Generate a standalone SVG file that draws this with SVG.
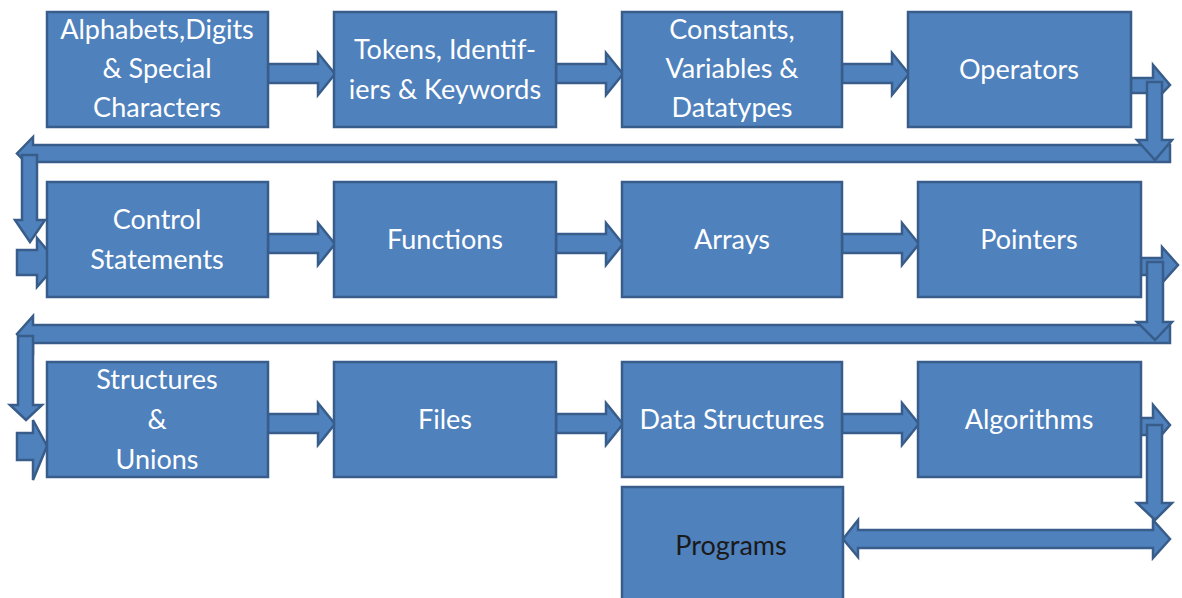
<svg xmlns="http://www.w3.org/2000/svg" width="1182" height="598" viewBox="0 0 1182 598">
  <style>
    .box { fill: #4F81BD; stroke: #385D8A; stroke-width: 2.5; }
    .arr { fill: #4F81BD; stroke: #385D8A; stroke-width: 2.5; stroke-linejoin: miter; }
    .lbl { font-family: Lato, "Liberation Sans", sans-serif; font-size: 27px; fill: #ffffff; text-anchor: middle; }
    .dark { fill: #1a1a1a; }
  </style>
  <rect width="1182" height="598" fill="#ffffff"/>

  <!-- flow connectors: block arrows -->
  <g id="connectors">
    <!-- row 1 links -->
    <path class="arr" d="M268,64 H318 V53 L335,74 L318,95 V83 H268 Z"/>
    <path class="arr" d="M556,64 H606 V53 L623,74 L606,95 V83 H556 Z"/>
    <path class="arr" d="M842,64 H892 V53 L909,74 L892,95 V83 H842 Z"/>
    <!-- row 1 to row 2 return path -->
    <path class="arr" d="M1131,78 H1153 V65 L1170,85 L1153,103 V93 H1131 Z"/>
    <path class="arr" d="M1170,145 H33 V137 L17,153.5 L33,170 V162 H1170 Z"/>
    <path class="arr" d="M1147,82 H1162 V140 H1172 L1155,160 L1137,140 H1147 Z"/>
    <path class="arr" d="M22,155 H37 V220 H45 L30,242 L15,220 H22 Z"/>
    <path class="arr" d="M17,250 H37 V238 L58,263 L37,287 V275 H17 Z"/>
    <!-- row 2 links -->
    <path class="arr" d="M268,234 H318 V223 L335,244 L318,265 V253 H268 Z"/>
    <path class="arr" d="M556,234 H606 V223 L623,244 L606,265 V253 H556 Z"/>
    <path class="arr" d="M842,234 H902 V223 L919,244 L902,265 V253 H842 Z"/>
    <!-- row 2 to row 3 return path -->
    <path class="arr" d="M1141,258 H1162 V247 L1178,265 L1162,283 V275 H1141 Z"/>
    <path class="arr" d="M1170,325 H33 V316 L17,334 L33,352 V343 H1170 Z"/>
    <path class="arr" d="M1147,262 H1163 V322 H1172 L1155,340 L1137,322 H1147 Z"/>
    <path class="arr" d="M18,336 H33 V405 H42 L26,420 L10,405 H18 Z"/>
    <path class="arr" d="M17,433 H33 V420 L47,446 L33,480 V460 H17 Z"/>
    <!-- row 3 links -->
    <path class="arr" d="M268,414 H318 V403 L335,424 L318,445 V433 H268 Z"/>
    <path class="arr" d="M556,414 H606 V403 L623,424 L606,445 V433 H556 Z"/>
    <path class="arr" d="M842,414 H902 V403 L919,424 L902,445 V433 H842 Z"/>
    <!-- row 3 down to programs -->
    <path class="arr" d="M1141,418 H1153 V405 L1170,425 L1153,445 V435 H1141 Z"/>
    <path class="arr" d="M843,539 L858,520 V530 H1153 V520 L1170,539 L1153,558 V548 H858 V557 Z"/>
    <path class="arr" d="M1147,425 H1162 V503 H1172 L1155,520 L1137,503 H1147 Z"/>
  </g>

  <!-- row 1 -->
  <g id="node-alphabets">
    <rect class="box" x="47" y="12" width="221" height="115"/>
    <text class="lbl" x="157" y="39">Alphabets,Digits</text>
    <text class="lbl" x="157" y="78">&amp; Special</text>
    <text class="lbl" x="157" y="117">Characters</text>
  </g>
  <g id="node-tokens">
    <rect class="box" x="334" y="12" width="222" height="115"/>
    <text class="lbl" x="445" y="59">Tokens, Identif-</text>
    <text class="lbl" x="445" y="99">iers &amp; Keywords</text>
  </g>
  <g id="node-constants">
    <rect class="box" x="622" y="12" width="220" height="115"/>
    <text class="lbl" x="732" y="39">Constants,</text>
    <text class="lbl" x="732" y="78">Variables &amp;</text>
    <text class="lbl" x="732" y="117">Datatypes</text>
  </g>
  <g id="node-operators">
    <rect class="box" x="908" y="12" width="223" height="115"/>
    <text class="lbl" x="1019" y="79">Operators</text>
  </g>

  <!-- row 2 -->
  <g id="node-control">
    <rect class="box" x="47" y="182" width="221" height="115"/>
    <text class="lbl" x="157" y="229">Control</text>
    <text class="lbl" x="157" y="269">Statements</text>
  </g>
  <g id="node-functions">
    <rect class="box" x="334" y="182" width="222" height="115"/>
    <text class="lbl" x="445" y="249">Functions</text>
  </g>
  <g id="node-arrays">
    <rect class="box" x="622" y="182" width="220" height="115"/>
    <text class="lbl" x="732" y="249">Arrays</text>
  </g>
  <g id="node-pointers">
    <rect class="box" x="918" y="182" width="223" height="115"/>
    <text class="lbl" x="1029" y="249">Pointers</text>
  </g>

  <!-- row 3 -->
  <g id="node-structures">
    <rect class="box" x="47" y="362" width="221" height="115"/>
    <text class="lbl" x="157" y="389">Structures</text>
    <text class="lbl" x="157" y="429">&amp;</text>
    <text class="lbl" x="157" y="469">Unions</text>
  </g>
  <g id="node-files">
    <rect class="box" x="334" y="362" width="222" height="115"/>
    <text class="lbl" x="445" y="429">Files</text>
  </g>
  <g id="node-datastructures">
    <rect class="box" x="622" y="362" width="220" height="115"/>
    <text class="lbl" x="732" y="429">Data Structures</text>
  </g>
  <g id="node-algorithms">
    <rect class="box" x="918" y="362" width="223" height="115"/>
    <text class="lbl" x="1029" y="429">Algorithms</text>
  </g>

  <!-- final node -->
  <g id="node-programs">
    <rect class="box" x="622" y="487" width="221" height="120"/>
    <text class="lbl dark" x="731" y="555">Programs</text>
  </g>
</svg>
